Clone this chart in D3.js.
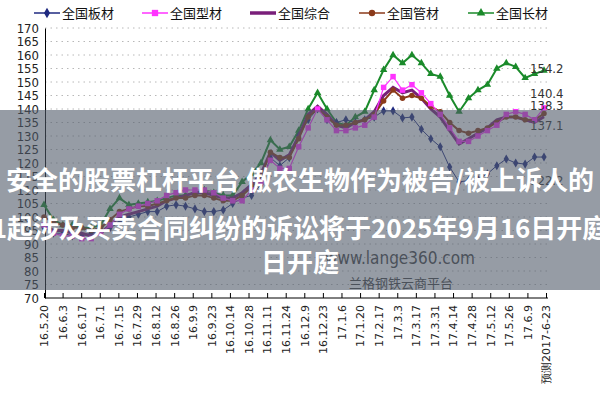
<!DOCTYPE html>
<html><head><meta charset="utf-8">
<script src="https://cdn.jsdelivr.net/npm/d3@7"></script>
<style>body{margin:0;background:#fff}svg{display:block}</style>
</head><body>
<svg id="c" width="600" height="400"></svg>
<script>
const tickLabels=["16.5.20","16.6.3","16.6.17","16.7.1","16.7.15","16.7.29","16.8.12","16.8.26","16.9.9","16.9.23","16.10.14","16.10.28","16.11.11","16.11.24","16.12.9","16.12.23","17.1.6","17.1.20","17.2.17","17.3.3","17.3.17","17.3.31","17.4.14","17.4.28","17.5.12","17.5.26","17.6.9","预测2017-6-23"];
const seriesNames=["全国板材","全国型材","全国综合","全国管材","全国长材"];
const banCai=[96,94,94,93,93,94,95,96,98,100,101,102,102,104,104.5,104,103,102,102,102.6,105,107,108,112,122,119,122,130,136,140,136,135,136,135,136,137,139.3,139.3,136.7,137,132.5,129,126,118.5,113,113.5,114,116,119,121.5,120,119.6,122.2,122.2];
const xingCai=[97,94,93,93,92,92,94,97,101,103,104,105,106,108,109,110,110,110,109,107,106,106,110,113,121,118,118,126,133,140,136,132,132,133,134,137,148,152,147,149,146,142,138,133,128,128,130,132,134,138,139,138,136,140.4];
const zongHe=[97,95,95,94,94,93,94,97,100,101,102,103,104,106,107,108,109,109,108,107,107,109,112,116,124,121,123,130,138,141,138,134,133,135,136,139,145,148,146,147,144,140,137,132,127,129,131,133,136,137,137,136,135,137.1];
const guanCai=[100,98,97,96,96,95,96,99,102,103,104,104,105,106,107,107,108,108,107,106,106,108,111,115,124,122,122,129,137,140,137,134,134,135,136,138,143,147,144,145,144,141,139,135,132,131,132,133,135,137,137,136,136,138.3];
const changCai=[104.5,99,97,97,96,96,97,103,107,104.5,105,105.5,106,107,108,108,109,110,109,108,108,113,116,120,128.5,125,126,132,140,146,140,135,134,137,139,147,154.5,160,157,160,157,153,152,145,139,144,147,149,155,157,155.6,151.5,153,154.2];
const yTicks=d3.range(70,171,5);
const endLabels=["154.2","140.4","138.3","137.1","122.2"];

const svg=d3.select("#c");
const L=45,R=544,T=28,B=298;
const y=d3.scaleLinear().domain([70,170]).range([B,T]);
const x=d3.scaleLinear().domain([0,changCai.length-1]).range([44,544]);
const xl=d3.scalePoint().domain(tickLabels).range([44,546]);
const font="'Liberation Sans Narrow','DejaVu Sans Condensed',sans-serif";

// grid
svg.append("g").selectAll("line").data(yTicks.slice(1)).join("line")
 .attr("x1",L).attr("x2",R+4).attr("y1",d=>y(d)).attr("y2",d=>y(d))
 .attr("stroke","#b8b8b8").attr("stroke-dasharray","1.5,4");
// y axis
const ya=svg.append("g").attr("transform",`translate(${L},0)`).call(d3.axisLeft(y).tickValues(yTicks).tickSize(0).tickPadding(6));
ya.select(".domain").attr("stroke","#000");
ya.selectAll("text").attr("font-family",font).attr("font-size",13).attr("fill","#222");
// x axis
const xa=svg.append("g").attr("transform",`translate(0,${B})`).call(d3.axisBottom(xl).tickSize(-5).tickSizeOuter(0).tickPadding(8));
xa.select(".domain").attr("stroke","#000").attr("d",`M${L},0H${R+4}`);
xa.selectAll(".tick line").attr("stroke","#000");
xa.selectAll("text").attr("font-family","'DejaVu Sans',sans-serif").attr("font-size",11).attr("fill","#222")
 .attr("transform","rotate(-90)").attr("text-anchor","end").attr("dx","-7").attr("dy","0.35em").attr("y",0);

const colors=["#1f2a80","#ff33ff","#7a1f7a","#8b3a1a","#1a8a2a"];
const data=[banCai,xingCai,zongHe,guanCai,changCai];
const markers=[d3.symbolDiamond,d3.symbolSquare,null,d3.symbolCircle,d3.symbolTriangle];
const widths=[1,1.2,3,2,2];
const line=d3.line().x((d,i)=>x(i)).y(d=>y(d));
const order=[4,0,2,3,1];
order.forEach(k=>{
 const g=svg.append("g");
 g.append("path").attr("d",line(data[k])).attr("fill","none").attr("stroke",colors[k]).attr("stroke-width",widths[k]);
 if(markers[k]) g.selectAll("path.m").data(data[k]).join("path").attr("class","m")
   .attr("d",d3.symbol().type(markers[k]).size(k==1?30:24)).attr("transform",(d,i)=>`translate(${x(i)},${y(d)})`).attr("fill",colors[k]);
});
// end labels
const ly=[68,93,105,125,180];
svg.append("g").selectAll("text").data(endLabels).join("text").attr("x",530).attr("y",(d,i)=>ly[i]).attr("dy","0.35em")
 .text(d=>d).attr("font-family",font).attr("font-size",13).attr("fill","#333");
// legend
const lx=[34,142,250,359,468];
const lg=svg.append("g");
seriesNames.forEach((n,k)=>{
 lg.append("line").attr("x1",lx[k]).attr("x2",lx[k]+26).attr("y1",13).attr("y2",13).attr("stroke",colors[k]).attr("stroke-width",k==2?3.5:1.5);
 if(markers[k]) lg.append("path").attr("d",d3.symbol().type(markers[k]).size(k==1?40:32)).attr("transform",`translate(${lx[k]+13},13)`).attr("fill",colors[k]);
 lg.append("text").attr("x",lx[k]+28).attr("y",13).attr("dy","0.35em").text(n).attr("font-family","'Noto Sans CJK SC',sans-serif").attr("font-size",13).attr("fill","#111");
});
// watermark
svg.append("text").attr("x",400).attr("y",258).attr("dy","0.35em").attr("text-anchor","middle").text("www.lange360.com").attr("font-family",font).attr("font-size",17).attr("fill","#444");
svg.append("text").attr("x",401).attr("y",283).attr("dy","0.35em").attr("text-anchor","middle").text("兰格钢铁云商平台").attr("font-family","'Noto Sans CJK SC',sans-serif").attr("font-size",13).attr("fill","#444");
// overlay
svg.append("rect").attr("x",0).attr("y",110).attr("width",600).attr("height",180).attr("fill","rgb(80,90,105)").attr("opacity",0.6);
const ov=["安全的股票杠杆平台 傲农生物作为被告/被上诉人的","1起涉及买卖合同纠纷的诉讼将于2025年9月16日开庭","日开庭"];
const oy=[181,229,263];
svg.append("g").selectAll("text").data(ov).join("text").attr("x",300).attr("y",(d,i)=>oy[i]).attr("dy","0.35em").attr("text-anchor","middle")
 .text(d=>d).attr("font-family","'Noto Sans CJK SC',sans-serif").attr("font-weight","bold").attr("font-size",26).attr("fill","#fff");
</script>
</body></html>
